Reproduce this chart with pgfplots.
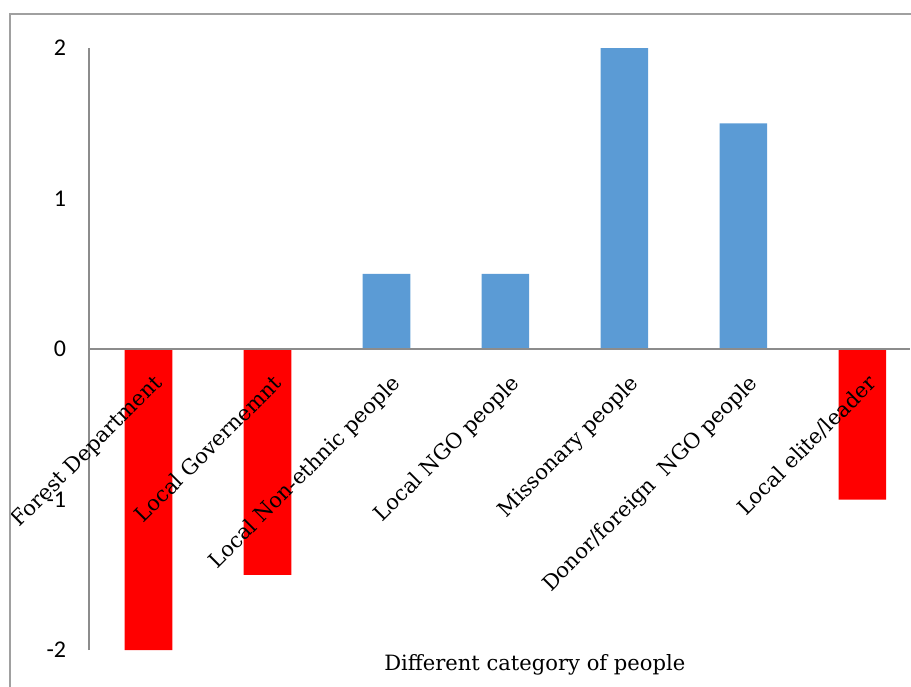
\documentclass[border=0pt]{standalone}
\usepackage{fontspec}
\newfontfamily\carlito{Carlito}
\newfontfamily\lblfont{DejaVu Serif}
\usepackage{pgfplots}
\pgfplotsset{compat=1.18}
\definecolor{barred}{HTML}{FF0000}
\definecolor{barblue}{HTML}{5B9BD5}
\definecolor{axgray}{HTML}{8C8C8C}
\definecolor{framegray}{HTML}{A0A0A0}
\begin{document}
\begin{tikzpicture}
\begin{axis}[
  at={(0,0)}, anchor=south west,
  scale only axis, width=615.75pt, height=451.5pt,
  xmin=-0.5, xmax=6.4, ymin=-2, ymax=2,
  axis x line=middle, axis y line=left,
  axis on top,
  axis line style={-, draw=axgray, line width=0.9pt},
  hide obscured x ticks=false, hide obscured y ticks=false,
  major tick length=0pt,
  ytick={-2,-1,0,1,2}, yticklabels={-2,-1,0,1,2},
  yticklabel style={font=\carlito\fontsize{18}{20}\selectfont, anchor=east, inner sep=0pt, xshift=-17pt},
  xtick={0,1,2,3,4,5,6},
  xticklabels={Forest Department, Local Governemnt, Local Non-ethnic people, Local NGO people, Missonary people, {Donor/foreign\ \ NGO people}, Local elite/leader},
  xticklabel style={font=\lblfont\fontsize{15.8}{17}\selectfont, xshift=3pt, yshift=-18pt, rotate=45, anchor=north east, inner sep=0pt},
  xlabel={Different category of people},
  xlabel style={at={(axis description cs:0.543,-0.025)}, anchor=center, font=\lblfont\fontsize{15.8}{17}\selectfont},
  clip=false,
]
\addplot[ybar, bar shift=0pt, bar width=0.4, fill=barred, draw=none] coordinates {(0,-2) (1,-1.5) (6,-1)};
\addplot[ybar, bar shift=0pt, bar width=0.4, fill=barblue, draw=none] coordinates {(2,0.5) (3,0.5) (4,2) (5,1.5)};
\end{axis}
\draw[framegray, line width=1pt] (-59.25pt,-40pt) -- (-59.25pt,477pt) -- (700pt,477pt);
\pgfresetboundingbox
\useasboundingbox (-66.75pt,-27pt) rectangle ++(683.25pt,514.5pt);
\end{tikzpicture}
\end{document}
